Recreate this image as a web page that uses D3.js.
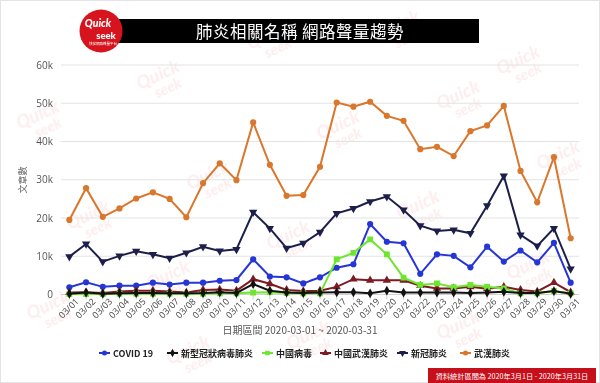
<!DOCTYPE html>
<html><head><meta charset="utf-8">
<script src="https://cdn.jsdelivr.net/npm/d3@7"></script>
<style>
body{margin:0;background:#fff;}
svg{display:block;font-family:"Noto Sans CJK TC","Noto Sans",sans-serif;}
</style></head>
<body><svg id="c" width="600" height="383"></svg>
<script>
const dates = ["03/01","03/02","03/03","03/04","03/05","03/06","03/07","03/08","03/09","03/10","03/11","03/12","03/13","03/14","03/15","03/16","03/17","03/18","03/19","03/20","03/21","03/22","03/23","03/24","03/25","03/26","03/27","03/28","03/29","03/30","03/31"];
const yTicks = [0,10000,20000,30000,40000,50000,60000];
const covid19 = [1.9,3.2,2.0,2.3,2.3,3.1,2.6,3.1,3.1,3.6,3.8,9.2,4.7,4.5,2.9,4.5,7.0,7.9,18.4,13.8,13.4,5.4,10.5,10.1,7.1,12.5,8.6,11.5,8.4,13.5,3.1];
const xinxingGuanzhuang = [0.2,0.5,0.2,0.3,0.4,0.4,0.3,0.3,0.4,0.6,0.4,2.7,1.0,0.5,0.4,0.5,0.6,0.6,0.3,1.0,0.5,0.5,0.5,0.5,0.4,0.5,0.7,0.4,0.4,0.9,0.2];
const zhongguoBingdu = [0.1,0.1,0.1,0.2,0.2,0.2,0.2,0.2,0.2,0.3,0.3,0.5,0.6,0.4,0.3,0.3,9.2,10.9,14.4,10.5,4.4,2.5,2.9,1.9,2.5,2.0,1.6,0.3,0.3,0.9,0.3];
const zhongguoWuhan = [0.5,0.6,0.4,0.8,1.0,1.0,0.8,0.5,1.2,1.3,1.0,4.0,2.8,1.2,0.9,1.0,2.0,4.0,3.7,3.7,3.7,2.3,1.6,1.6,2.0,1.5,2.0,1.2,0.8,3.1,0.6];
const xinguan = [9.9,13.2,8.6,10.1,11.3,10.5,9.5,10.9,12.5,11.4,11.8,21.5,17.3,12.1,13.4,16.3,21.2,22.5,24.3,25.6,22.1,18.0,16.6,16.9,16.0,23.2,31.0,15.6,12.7,17.3,6.7];
const wuhan = [19.5,27.8,20.3,22.5,25.1,26.7,25.0,20.2,29.1,34.3,29.9,45.0,33.9,25.8,26.0,33.4,50.2,49.1,50.4,46.7,45.4,38.0,38.6,36.2,42.7,44.2,49.3,32.3,24.1,35.9,14.7];
const seriesNames = ["COVID 19","新型冠狀病毒肺炎","中國病毒","中國武漢肺炎","新冠肺炎","武漢肺炎"];
const seriesValues = [covid19,xinxingGuanzhuang,zhongguoBingdu,zhongguoWuhan,xinguan,wuhan];
const seriesColors = ["#2636d6","#111111","#6ee52e","#7e1a22","#1d1f4b","#d9772d"];
const seriesSymbols = [d3.symbolCircle,d3.symbolDiamond,d3.symbolSquare,d3.symbolTriangle,"tridown",d3.symbolCircle];

const svg = d3.select("#c");
// outer frame
svg.append("rect").attr("x",0.5).attr("y",0.5).attr("width",599).attr("height",382).attr("fill","#fff").attr("stroke","#e4e4e4");

// watermarks
const wm = svg.append("g").attr("fill","#fbdfe1").attr("opacity",0.5).attr("font-family","Lato,sans-serif").attr("font-weight",900).attr("font-style","italic");
const wmPos=[[20,130],[140,90],[250,50],[380,40],[500,75],[70,230],[190,190],[320,140],[440,110],[540,170],[30,320],[150,290],[270,250],[400,220],[510,280],[290,350],[440,340],[170,365]];
wmPos.forEach(p=>{
  const g=wm.append("g").attr("transform",`translate(${p[0]},${p[1]}) rotate(-25)`);
  g.append("text").attr("font-size",18).text("Quick");
  g.append("text").attr("x",12).attr("y",15).attr("font-size",15).text("seek");
});

// title bar
svg.append("rect").attr("x",118).attr("y",19).attr("width",361).attr("height",24).attr("fill","#000");
svg.append("text").attr("x",300).attr("y",37.5).attr("text-anchor","middle").attr("fill","#fff").attr("font-size",16.5).attr("letter-spacing",0.5).text("肺炎相關名稱 網路聲量趨勢");
// logo
svg.append("circle").attr("cx",101).attr("cy",31).attr("r",21.5).attr("fill","#d7141d");
svg.append("text").attr("x",98).attr("y",27).attr("text-anchor","middle").attr("fill","#fff").attr("font-size",10.5).attr("font-weight",900).attr("font-style","italic").attr("font-family","Lato,sans-serif").text("Quick");
svg.append("text").attr("x",106).attr("y",38.5).attr("text-anchor","middle").attr("fill","#fff").attr("font-size",9.5).attr("font-weight",900).attr("font-family","Lato,sans-serif").text("seek");
svg.append("text").attr("x",103).attr("y",45).attr("text-anchor","middle").attr("fill","#fff").attr("font-size",3.5).text("快找網路聲量平台");

// scales
const x = d3.scaleBand().domain(dates).range([61,579]);
const y = d3.scaleLinear().domain([0,60000]).range([294.5,65]);
const cx = d => x(d)+x.bandwidth()/2;

// grid
const grid = svg.append("g");
yTicks.forEach(t=>{
  grid.append("line").attr("x1",61).attr("x2",579).attr("y1",y(t)).attr("y2",y(t)).attr("stroke",t===0?"#cfcfcf":"#e3e3e3").attr("stroke-width",1);
});
// y axis labels
const yAxis = d3.axisLeft(y).tickValues(yTicks).tickSize(0).tickPadding(8).tickFormat(d=>d===0?"0":(d/1000)+"k");
const yg = svg.append("g").attr("transform","translate(61,0)").call(yAxis);
yg.select(".domain").remove();
yg.selectAll("text").attr("fill","#555").attr("font-size",10).attr("font-family","'Open Sans',sans-serif");
// y title
svg.append("text").attr("transform","translate(26,180) rotate(-90)").attr("text-anchor","middle").attr("fill","#666").attr("font-size",9).text("文章數");

// x axis
const xAxis = d3.axisBottom(x).tickSize(5).tickSizeOuter(0);
const xg = svg.append("g").attr("transform","translate(0,294.5)").call(xAxis);
xg.select(".domain").remove();
xg.selectAll(".tick line").attr("stroke","#ccc");
xg.selectAll("text").attr("fill","#444").attr("font-size",9).attr("font-family","'Open Sans',sans-serif")
  .attr("text-anchor","end").attr("dx","0.2em").attr("dy","0.5em").attr("transform","rotate(-45)");
svg.append("text").attr("x",300).attr("y",334).attr("text-anchor","middle").attr("fill","#555").attr("font-size",10).text("日期區間 2020-03-01 ~ 2020-03-31");

// marker helper
function sym(s,size){
  if(s==="tridown") return d3.symbol(d3.symbolTriangle,size)();
  return d3.symbol(s,size)();
}
// lines
const line = d3.line().x((d,i)=>cx(dates[i])).y(d=>y(d*1000));
const order=[5,4,0,3,2,1];
order.forEach(k=>{
  const g=svg.append("g");
  g.append("path").datum(seriesValues[k]).attr("d",line).attr("fill","none").attr("stroke",seriesColors[k]).attr("stroke-width",2);
  const sz = k===2?34: k===1?28: 30;
  g.selectAll("path.m").data(seriesValues[k]).join("path").attr("class","m")
    .attr("d",sym(seriesSymbols[k],sz))
    .attr("transform",(d,i)=>`translate(${cx(dates[i])},${y(d*1000)})`+(seriesSymbols[k]==="tridown"?" rotate(180)":""))
    .attr("fill",seriesColors[k]);
});

// legend
const legX=[99,167,262,320,397,460];
const lg=svg.append("g");
seriesNames.forEach((n,k)=>{
  const g=lg.append("g").attr("transform",`translate(${legX[k]},353)`);
  g.append("line").attr("x1",0).attr("x2",11).attr("stroke",seriesColors[k]).attr("stroke-width",2);
  g.append("path").attr("d",sym(seriesSymbols[k],20)).attr("transform","translate(5.5,0)"+(seriesSymbols[k]==="tridown"?" rotate(180)":"")).attr("fill",seriesColors[k]);
  g.append("text").attr("x",14).attr("y",3.5).attr("fill","#222").attr("font-size",9).attr("font-weight",700).text(n);
});

// footer
svg.append("rect").attr("x",428).attr("y",368).attr("width",168).attr("height",15).attr("fill","#c5101c");
svg.append("text").attr("x",512).attr("y",379).attr("text-anchor","middle").attr("fill","#fff").attr("font-size",7.2).attr("font-family","'Noto Sans CJK TC',serif").text("資料統計區間為 2020年3月1日 - 2020年3月31日");
</script></body></html>
